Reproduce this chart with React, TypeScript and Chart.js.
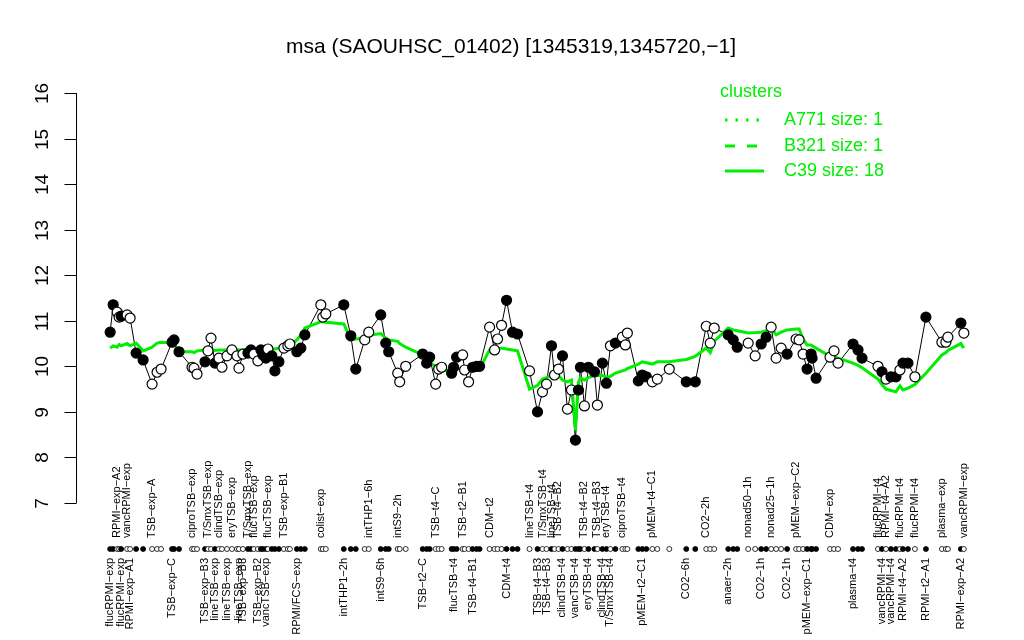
import React, { useEffect, useRef } from "react";
import { Chart, registerables } from "chart.js";

Chart.register(...registerables);

const TITLE = "msa (SAOUHSC_01402) [1345319,1345720,−1]";

// sample positions along the condition axis
const samplePos = [
  110, 113, 117, 119, 121, 127, 130, 136, 143, 152,
  157, 161, 172, 174, 179, 192, 194, 197, 205, 208,
  211, 215, 219, 222, 227, 232, 237, 239, 243, 248,
  251, 254, 258, 261, 263, 266, 268, 272, 275, 279,
  284, 288, 290, 297, 301, 305, 321, 323, 326, 344,
  351, 356, 365, 369, 381, 386, 389, 398, 400, 406,
  423, 427, 430, 436, 439, 442, 452, 454, 457, 463,
  465, 469, 473, 477, 480, 490, 495, 498, 502, 507,
  513, 518, 530, 538, 543, 547, 552, 555, 559, 563,
  568, 572, 576, 579, 581, 585, 589, 595, 598, 603,
  607, 611, 616, 623, 626, 628, 639, 643, 647, 653,
  658, 670, 687, 696, 707, 711, 715, 729, 734, 738,
  749, 756, 762, 767, 772, 777, 782, 788, 797, 800,
  804, 808, 812, 813, 817, 831, 835, 839, 854, 859,
  863, 879, 883, 887, 892, 897, 901, 904, 909, 916,
  927, 943, 947, 949, 962, 965,
];

// expression of msa per sample
const expression = [
  10.75, 11.35, 11.19, 11.08, 11.10, 11.13, 11.06, 10.29, 10.14, 9.61,
  9.87, 9.94, 10.53, 10.58, 10.32, 9.98, 9.96, 9.83, 10.10, 10.34,
  10.62, 10.07, 10.18, 9.98, 10.23, 10.36, 10.23, 9.96, 10.27, 10.29,
  10.36, 10.27, 10.12, 10.36, 10.25, 10.18, 10.38, 10.23, 9.90, 10.10,
  10.40, 10.45, 10.49, 10.32, 10.40, 10.69, 11.35, 11.08, 11.15, 11.35,
  10.67, 9.94, 10.58, 10.75, 11.13, 10.51, 10.32, 9.85, 9.66, 10.00,
  10.27, 10.07, 10.20, 9.61, 9.94, 9.98, 9.85, 9.98, 10.20, 10.25,
  9.92, 9.66, 9.98, 10.00, 10.00, 10.86, 10.36, 10.60, 10.90, 11.45,
  10.75, 10.71, 9.90, 9.00, 9.44, 9.61, 10.45, 9.81, 9.94, 10.23,
  9.06, 9.48, 8.38, 9.48, 9.98, 9.13, 9.98, 9.88, 9.15, 10.07,
  9.63, 10.45, 10.51, 10.64, 10.47, 10.73, 9.68, 9.81, 9.77, 9.66,
  9.72, 9.94, 9.66, 9.66, 10.88, 10.51, 10.84, 10.69, 10.58, 10.42,
  10.51, 10.23, 10.49, 10.64, 10.86, 10.18, 10.40, 10.27, 10.60, 10.58,
  10.27, 9.94, 10.27, 10.18, 9.74, 10.20, 10.34, 10.07, 10.49, 10.36,
  10.18, 10.00, 9.88, 9.72, 9.77, 9.77, 9.92, 10.07, 10.07, 9.77,
  11.08, 10.53, 10.53, 10.64, 10.95, 10.73,
];

// 1 = filled marker, 0 = open marker
const filled = [
  1, 1, 0, 0, 1, 0, 0, 1, 1, 0,
  0, 0, 1, 1, 1, 0, 0, 0, 1, 0,
  0, 1, 0, 0, 0, 0, 0, 0, 0, 1,
  1, 0, 0, 1, 1, 1, 0, 1, 1, 1,
  0, 0, 0, 1, 1, 1, 0, 0, 0, 1,
  1, 1, 0, 0, 1, 1, 1, 0, 0, 0,
  1, 1, 1, 0, 0, 0, 1, 1, 1, 0,
  0, 0, 1, 1, 1, 0, 0, 0, 0, 1,
  1, 1, 0, 1, 0, 0, 1, 0, 0, 1,
  0, 0, 1, 1, 1, 0, 1, 1, 0, 1,
  1, 0, 1, 0, 0, 0, 1, 1, 1, 0,
  0, 0, 1, 1, 0, 0, 0, 1, 1, 1,
  0, 0, 1, 1, 0, 0, 0, 1, 0, 0,
  0, 1, 1, 1, 1, 0, 0, 0, 1, 1,
  1, 0, 1, 0, 1, 1, 0, 1, 1, 0,
  1, 0, 0, 0, 1, 0,
];

// cluster C39 mean profile
const clusterC39 = [
  10.40, 10.45, 10.42, 10.48, 10.45, 10.50, 10.45, 10.51, 10.34, 10.42,
  10.51, 10.53, 10.51, 10.50, 10.32, 10.32, 10.30, 10.34, 10.36, 10.38,
  10.38, 10.35, 10.36, 10.36, 10.36, 10.38, 10.36, 10.36, 10.36, 10.38,
  10.38, 10.36, 10.36, 10.38, 10.38, 10.38, 10.40, 10.38, 10.38, 10.40,
  10.45, 10.45, 10.45, 10.58, 10.69, 10.84, 10.98, 10.98, 10.97, 10.93,
  10.58, 10.60, 10.62, 10.68, 10.72, 10.62, 10.58, 10.55, 10.50, 10.42,
  10.25, 10.15, 10.08, 10.00, 9.95, 9.92, 9.92, 9.92, 9.95, 9.93,
  9.90, 9.88, 9.90, 9.92, 9.95, 10.36, 10.38, 10.38, 10.40, 10.38,
  10.36, 10.34, 9.50, 9.58, 9.72, 9.75, 9.80, 9.78, 9.80, 9.70,
  9.66, 9.70, 8.60, 9.65, 9.75, 9.70, 9.75, 9.80, 9.80, 9.80,
  9.75, 9.78, 9.85, 9.90, 9.92, 9.95, 10.05, 10.10, 10.08, 10.05,
  10.10, 10.10, 10.15, 10.22, 10.40, 10.30, 10.55, 10.84, 10.80, 10.78,
  10.73, 10.74, 10.75, 10.78, 10.84, 10.69, 10.75, 10.80, 10.82, 10.82,
  10.60, 10.47, 10.47, 10.45, 10.40, 10.22, 10.20, 10.18, 10.07, 10.02,
  9.97, 9.72, 9.60, 9.50, 9.47, 9.44, 9.57, 9.48, 9.52, 9.60,
  9.85, 10.25, 10.30, 10.35, 10.50, 10.40,
];

// labels above the marker row (1-based sample numbers)
const topLabelSample = [
  3, 6, 10, 16, 20, 23, 26, 30, 32, 37, 41, 47, 54, 58, 64, 70, 76, 83, 85, 87,
  89, 96, 99, 101, 104, 110, 115, 121, 125, 129, 136, 142, 144, 147, 150, 152, 156,
];
const topLabelText = [
  "RPMI−exp−A2", "vancRPMI−exp", "TSB−exp−A", "ciproTSB−exp", "T/SmxTSB−exp",
  "clindTSB−exp", "eryTSB−exp", "T/SmxTSB−exp", "flucTSB−exp", "flucTSB−exp",
  "TSB−exp−B1", "colist−exp", "intTHP1−6h", "intS9−2h", "TSB−t4−C", "TSB−t2−B1",
  "CDM−t2", "lineTSB−t4", "T/SmxTSB−t4", "lineTSB−t4", "TSB−t4−B2", "TSB−t4−B2",
  "TSB−t4−B3", "eryTSB−t4", "ciproTSB−t4", "pMEM−t4−C1", "CO2−2h", "nonad50−1h",
  "nonad25−1h", "pMEM−exp−C2", "CDM−exp", "flucRPMI−t4", "RPMI−t4−A2",
  "flucRPMI−t4", "flucRPMI−t4", "plasma−exp", "vancRPMI−exp",
];

// labels below the marker row (1-based sample numbers)
const bottomLabelSample = [
  1, 5, 7, 13, 19, 22, 25, 28, 29, 33, 36, 44, 50, 55, 61, 68, 73, 80, 84, 86,
  90, 93, 97, 100, 102, 108, 113, 118, 123, 128, 132, 139, 143, 145, 148, 151, 155,
];
const bottomLabelText = [
  "flucRPMI−exp", "flucRPMI−exp", "RPMI−exp−A1", "TSB−exp−C", "TSB−exp−B3",
  "lineTSB−exp", "lineTSB−exp", "lineTSB−exp", "TSB−exp−B3", "TSB−exp−B2",
  "vancTSB−exp", "RPMI/FCS−exp", "intTHP1−2h", "intS9−6h", "TSB−t2−C",
  "flucTSB−t4", "TSB−t4−B1", "CDM−t4", "TSB−t4−B3", "TSB−t4−B3", "clindTSB−t4",
  "vancTSB−t4", "eryTSB−t4", "clindTSB−t4", "T/SmxTSB−t4", "pMEM−t2−C1",
  "CO2−6h", "anaer−2h", "CO2−1h", "CO2−1h", "pMEM−exp−C1", "plasma−t4",
  "vancRPMI−t4", "vancRPMI−t4", "RPMI−t4−A2", "RPMI−t2−A1", "RPMI−exp−A2",
];

const yTicks = [7, 8, 9, 10, 11, 12, 13, 14, 15, 16];
const legendTitle = "clusters";
const legendLabels = ["A771 size: 1", "B321 size: 1", "C39 size: 18"];
const legendDash = [[2.5, 8], [10, 12], []];

const GREEN = "#00ee00";
const FONT = "'Liberation Sans', Arial, Helvetica, sans-serif";

const annotPlugin = {
  id: "annot",
  afterDatasetsDraw(chart: any) {
    const ctx = chart.ctx as CanvasRenderingContext2D;
    const xs = chart.scales.x;
    const ys = chart.scales.y;
    const area = chart.chartArea;
    ctx.save();

    // title
    ctx.fillStyle = "#000";
    ctx.font = `21px ${FONT}`;
    ctx.textAlign = "center";
    ctx.textBaseline = "middle";
    ctx.fillText(TITLE, 511, 47);

    // y axis
    ctx.strokeStyle = "#000";
    ctx.lineWidth = 1;
    const ax = Math.round(area.left) + 0.5;
    ctx.beginPath();
    ctx.moveTo(ax, ys.getPixelForValue(yTicks[0]));
    ctx.lineTo(ax, ys.getPixelForValue(yTicks[yTicks.length - 1]));
    ctx.stroke();
    ctx.font = `19px ${FONT}`;
    for (const t of yTicks) {
      const py = Math.round(ys.getPixelForValue(t)) + 0.5;
      ctx.beginPath();
      ctx.moveTo(ax - 12, py);
      ctx.lineTo(ax, py);
      ctx.stroke();
      ctx.save();
      ctx.translate(area.left - 33, py);
      ctx.rotate(-Math.PI / 2);
      ctx.textAlign = "center";
      ctx.textBaseline = "middle";
      ctx.fillText(String(t), 0, 0);
      ctx.restore();
    }

    // marker row under the plot
    const rowY = area.bottom + 46;
    for (let i = 0; i < samplePos.length; i++) {
      const px = xs.getPixelForValue(samplePos[i]);
      ctx.beginPath();
      ctx.arc(px, rowY, 2.5, 0, Math.PI * 2);
      ctx.fillStyle = filled[i] ? "#000" : "#fff";
      ctx.fill();
      ctx.lineWidth = 0.8;
      ctx.strokeStyle = "#000";
      ctx.stroke();
    }

    // sample labels
    ctx.fillStyle = "#000";
    ctx.font = `11px ${FONT}`;
    ctx.textBaseline = "middle";
    topLabelSample.forEach((s, k) => {
      const px = xs.getPixelForValue(samplePos[s - 1]);
      ctx.save();
      ctx.translate(px, rowY - 11);
      ctx.rotate(-Math.PI / 2);
      ctx.textAlign = "left";
      ctx.fillText(topLabelText[k], 0, 0);
      ctx.restore();
    });
    bottomLabelSample.forEach((s, k) => {
      const px = xs.getPixelForValue(samplePos[s - 1]);
      ctx.save();
      ctx.translate(px, rowY + 9);
      ctx.rotate(-Math.PI / 2);
      ctx.textAlign = "right";
      ctx.fillText(bottomLabelText[k], 0, 0);
      ctx.restore();
    });

    // legend
    ctx.fillStyle = GREEN;
    ctx.strokeStyle = GREEN;
    ctx.font = `18px ${FONT}`;
    ctx.textAlign = "left";
    ctx.textBaseline = "middle";
    ctx.fillText(legendTitle, 720, 92);
    const rows = [120, 146, 171];
    legendLabels.forEach((lab, k) => {
      ctx.lineWidth = 3;
      ctx.setLineDash(legendDash[k]);
      ctx.beginPath();
      ctx.moveTo(725, rows[k]);
      ctx.lineTo(764, rows[k]);
      ctx.stroke();
      ctx.setLineDash([]);
      ctx.fillText(lab, 784, rows[k]);
    });

    ctx.restore();
  },
};

export default function App() {
  const ref = useRef<HTMLCanvasElement | null>(null);

  useEffect(() => {
    document.body.style.margin = "0";
    const canvas = ref.current;
    if (!canvas) return;
    const pts = samplePos.map((x, i) => ({ x, y: expression[i] }));
    const cl = samplePos.map((x, i) => ({ x, y: clusterC39[i] }));
    const span = samplePos[samplePos.length - 1] - samplePos[0];
    const chart = new Chart(canvas, {
      type: "scatter",
      data: {
        datasets: [
          {
            label: "points",
            data: pts,
            showLine: false,
            pointRadius: 5,
            pointHoverRadius: 5,
            pointBackgroundColor: filled.map((f) => (f ? "#000" : "#fff")),
            pointBorderColor: "#000",
            pointBorderWidth: 1.2,
            order: 1,
          },
          {
            label: "C39",
            data: cl,
            showLine: true,
            borderColor: GREEN,
            borderWidth: 3,
            pointRadius: 0,
            order: 2,
          },
          {
            label: "profile",
            data: pts,
            showLine: true,
            borderColor: "#000",
            borderWidth: 1,
            pointRadius: 0,
            order: 3,
          },
        ],
      },
      options: {
        animation: false,
        responsive: false,
        events: [],
        layout: { padding: { left: 76, right: 26, top: 93, bottom: 137 } },
        scales: {
          x: {
            type: "linear",
            display: false,
            min: samplePos[0] - span * 0.04,
            max: samplePos[samplePos.length - 1] + span * 0.04,
          },
          y: { type: "linear", display: false, min: 7, max: 16 },
        },
        plugins: {
          legend: { display: false },
          tooltip: { enabled: false },
          title: { display: false },
        },
      },
      plugins: [annotPlugin],
    });
    return () => chart.destroy();
  }, []);

  return (
    <div style={{ width: 1024, height: 640, background: "#fff" }}>
      <canvas ref={ref} width={1024} height={640} style={{ display: "block" }} />
    </div>
  );
}
